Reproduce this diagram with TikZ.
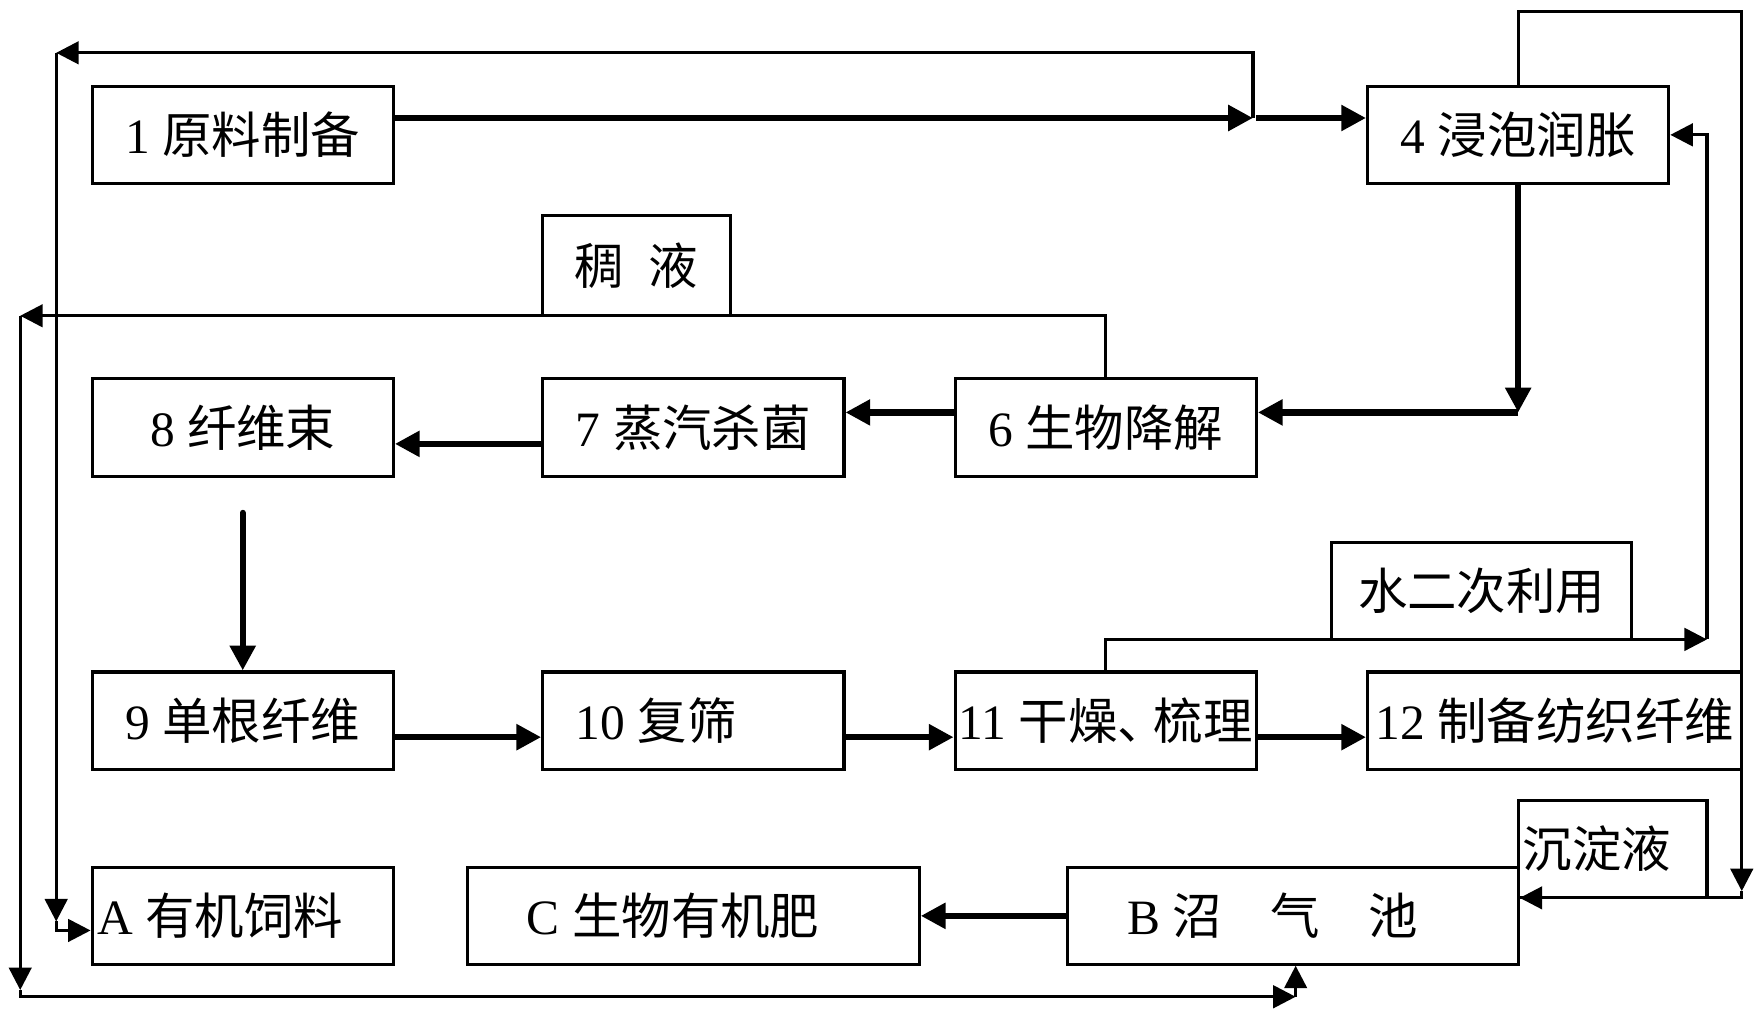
\documentclass[tikz,border=0pt]{standalone}
\usepackage{fontspec}
\setmainfont{Liberation Serif}
\newfontfamily\cjk{Noto Sans CJK SC}
\usetikzlibrary{arrows.meta}
\begin{document}
\begin{tikzpicture}[x=1pt,y=-1pt,
  box/.style={draw, line width=2.8pt, inner sep=0pt, minimum height=86pt, minimum width=268pt, font=\fontsize{44}{50}\selectfont, anchor=center},
  thn/.style={line width=2.8pt, -{Triangle[length=20pt,width=20pt]}},
  thk/.style={line width=5.5pt, -{Triangle[length=22pt,width=22pt]}}]
\useasboundingbox[fill=white] (0,0) rectangle (1568,903);
% boxes
\node[box] (n1) at (216,120) {1 {\cjk 原料制备}};
\node[box] (n4) at (1351,120) {4 {\cjk 浸泡润胀}};
\node[box, minimum width=167pt, minimum height=89pt] (ny) at (566.5,236.5) {{\cjk 稠\kern22pt 液}};
\node[box, minimum height=87pt] (n8) at (216,380.5) {8 {\cjk 纤维束}};
\node[box, minimum height=87pt] (n7) at (617,380.5) {7 {\cjk 蒸汽杀菌}};
\node[box, minimum height=87pt] (n6) at (984,380.5) {6 {\cjk 生物降解}};
\node[box, minimum width=267pt] (nw) at (1318.5,526) {{\cjk 水二次利用}};
\node[box, minimum height=87pt] (n9) at (216,641.5) {9 {\cjk 单根纤维}};
\node[box, minimum height=87pt] (n10) at (617,641.5) {10 {\cjk 复筛}\kern66pt};
\node[box, minimum height=87pt] (n11) at (984,641.5) {11 {\cjk 干燥、\kern-12pt 梳理}};
\node[box, minimum height=87pt, minimum width=333pt] (n12) at (1383.5,641.5) {12 {\cjk 制备纺织纤维}};
\node[box, minimum width=168pt, minimum height=87pt] (nd) at (1435,755.5) {{\cjk 沉淀液}\kern28pt};
\node[box] (nA) at (216,815) {A {\cjk 有机饲料}\kern40pt};
\node[box, minimum width=402pt] (nC) at (617,815) {C {\cjk 生物有机肥}\kern36pt};
\node[box, minimum width=401pt] (nB) at (1150.5,815) {B {\cjk 沼\kern43pt 气\kern43pt 池}\kern36pt};
% coordinates
\coordinate (cj) at (1115,105);
\coordinate (ctl) at (50,47);
\coordinate (cbl) at (50,828);
\coordinate (cyl) at (18,281);
\coordinate (cyb) at (18,887);
\coordinate (cbb) at (1153,887);
\coordinate (c46) at (1351,367);
\coordinate (cw) at (1519,569);
\coordinate (ctr) at (1550,10);
\coordinate (cbr) at (1550,799);
% main flow
\draw[thk] (n1.east |- cj) -- (cj);
\draw[thk] ([xshift=3pt]cj) -- (n4.west |- cj);
\draw[thk] (n4.south) -- (c46);
\draw[thk] (c46) -- (n6.east |- c46);
\draw[thk] ([yshift=13.5pt]n6.west) -- ([yshift=13.5pt]n7.east);
\draw[thk] ([yshift=-14.5pt]n7.west) -- ([yshift=-14.5pt]n8.east);
\draw[thk, line cap=round] ([yshift=-31pt]n8.south) -- (n9.north);
\draw[thk] ([yshift=-14.5pt]n9.east) -- ([yshift=-14.5pt]n10.west);
\draw[thk] ([yshift=-14.5pt]n10.east) -- ([yshift=-14.5pt]n11.west);
\draw[thk] ([yshift=-14.5pt]n11.east) -- ([yshift=-14.5pt]n12.west);
\draw[thk] ([xshift=1pt]nB.west) -- (nC.east);
% top return loop to A
\draw[thn] (cj) |- (ctl);
\draw[thn] (ctl) -- ([yshift=8pt]cbl);
\draw[thn] ([yshift=8pt]cbl) -- (cbl) -- (nA.west |- cbl);
% thick liquid loop to B
\draw[thn] (n6.north) |- (cyl);
\draw[thn] (cyl) -- ([yshift=6pt]cyb);
\draw[thn] ([yshift=6pt]cyb) -- (cyb) -- (cbb);
\draw[thn] (cbb) -- (cbb |- nB.south);
% water reuse loop
\draw[thn] (n11.north) |- (cw);
\draw[thn] (cw) |- (n4.east);
% sediment loop
\draw[thn] (n4.north) |- (ctr) -- ([yshift=6pt]cbr);
\draw[thn] ([yshift=6pt]cbr) -- (cbr) -- (nB.east |- cbr);
\end{tikzpicture}
\end{document}
